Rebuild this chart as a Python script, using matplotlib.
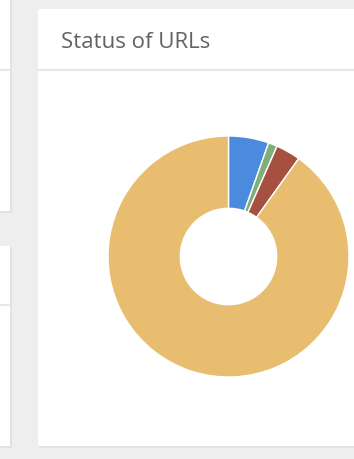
import matplotlib
matplotlib.use("Agg")
import matplotlib.pyplot as plt
from matplotlib.patches import Rectangle

# Data
labels = ["Blue status", "Green status", "Red status", "Yellow status"]
values = [5.4, 1.2, 3.3, 90.1]
colors = ["#4A8BDE", "#7DAE7B", "#A6513F", "#E8BD70"]
title = "Status of URLs"

W, H = 354, 460
fig = plt.figure(figsize=(W / 100, H / 100), dpi=100)
fig.patch.set_facecolor("#EEEEEE")

def px_rect(x0, y0, x1, y1, **kw):
    r = Rectangle((x0 / W, 1 - y1 / H), (x1 - x0) / W, (y1 - y0) / H,
                  transform=fig.transFigure, zorder=0.1, **kw)
    fig.patches.append(r)
    return r

def px_hline(x0, x1, y, color="#E3E3E3", lw=1.2):
    fig.add_artist(plt.Line2D([x0 / W, x1 / W], [1 - y / H, 1 - y / H],
                              transform=fig.transFigure, color=color, lw=lw, zorder=0.2))

for (x0, y0, x1, y1) in [(-5, -5, 10, 212), (-5, 247, 10, 447), (38, 10, 360, 447)]:
    px_rect(x0 + 1, y0 + 1, x1 + 1.5, y1 + 1.5, facecolor="#E2E2E2", edgecolor="none")
    px_rect(x0, y0, x1, y1, facecolor="white", edgecolor="none")

px_hline(-5, 10, 70.5)
px_hline(-5, 10, 306)
px_hline(38, 360, 71)

fig.text(61 / W, 1 - 42 / H, title, fontsize=16, family=["Open Sans", "DejaVu Sans"],
         color="#626262", va="center", ha="left", zorder=3)

# Donut
cx, cy, R = 228.5, 257.5, 120.5
ax = fig.add_axes([(cx - R) / W, (H - cy - R) / H, 2 * R / W, 2 * R / H])
ax.set_zorder(5)
ax.patch.set_alpha(0)
ax.pie(values, colors=colors, startangle=90, counterclock=False, radius=1,
       wedgeprops=dict(width=0.6, edgecolor="white", linewidth=1.0))
ax.set_xlim(-1, 1)
ax.set_ylim(-1, 1)
ax.set_aspect("equal")
ax.axis("off")

fig.savefig("out.png", dpi=100, facecolor=fig.get_facecolor())
